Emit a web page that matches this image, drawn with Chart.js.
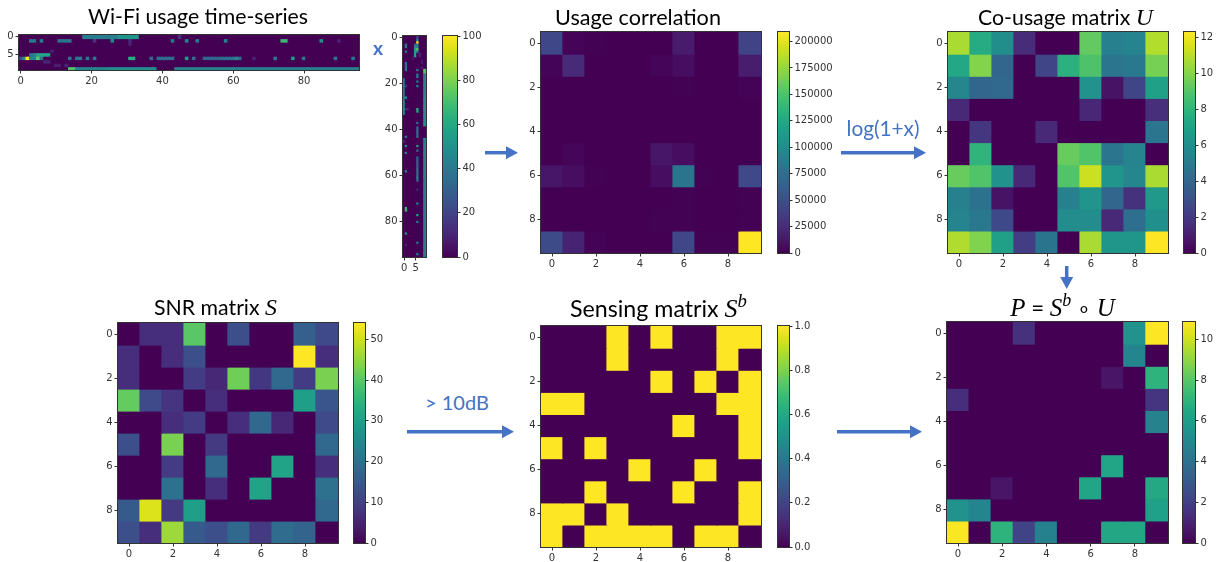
<!DOCTYPE html>
<html><head><meta charset="utf-8">
<script src="https://cdn.jsdelivr.net/npm/chart.js@4.4.1/dist/chart.umd.min.js"></script>
<style>
html,body{margin:0;padding:0;background:#fff;width:1225px;height:562px;overflow:hidden;position:relative}
canvas{position:absolute}
.t{position:absolute;white-space:nowrap;font-family:Lato,'Open Sans',sans-serif;color:#000;line-height:1;font-size:20px}
.m{font-family:'Liberation Serif','DejaVu Serif',serif;font-style:italic;font-size:1.12em}
sup{font-size:0.72em;line-height:0;vertical-align:0.55em}
.blue{color:#4472c4}
.bold{font-weight:bold}
svg{position:absolute;left:0;top:0}
</style></head><body>
<svg id="arrows" width="1225" height="562"></svg>
<script>
// ---------------- data ----------------
// Wi-Fi usage time-series: per access point (row), runs of [firstSlot, lastSlot, usage]
const tsAP0 = [[18,27,42],[28,33,52],[45,45,15]];
const tsAP1 = [[3,4,40],[6,6,42],[11,12,38],[13,14,40],[21,21,15],[26,26,45],[31,31,12],[43,43,40],[47,47,45],[50,50,42],[58,58,45],[74,75,68],[85,85,50],[90,90,10]];
const tsAP2 = [[31,31,8]];
const tsAP3 = [];
const tsAP4 = [[9,9,8]];
const tsAP5 = [[3,3,35],[4,4,45],[5,8,58]];
const tsAP6 = [[0,0,20],[1,1,45],[2,2,100],[3,4,45],[5,5,75],[6,6,40],[14,14,40],[16,17,40],[19,19,40],[21,21,40],[31,32,62],[37,37,35],[39,43,35],[47,47,55],[49,49,35],[52,56,32],[57,60,36],[61,61,45],[62,62,35],[66,66,10],[72,72,40],[77,77,55],[80,80,40],[89,89,40],[94,94,40]];
const tsAP7 = [[7,8,10]];
const tsAP8 = [[10,11,8],[13,13,10]];
const tsAP9 = [[14,15,72],[16,24,45],[25,38,48],[44,60,44],[61,95,42]];
const tsSlots = 96;

const usageCorrelation = [
  [44000, 1800, 400, 3, 0, 0, 15000, 200, 250, 42000],
  [1500, 24000, 55, 0, 11, 2400, 7000, 120, 140, 16000],
  [270, 55, 60, 0, 0, 0, 500, 1, 12, 1100],
  [3, 0, 0, 0, 0, 0, 3, 0, 0, 4],
  [0, 6, 0, 0, 3, 0, 0, 0, 0, 120],
  [0, 3000, 0, 0, 0, 12000, 7000, 120, 250, 0],
  [12000, 7000, 500, 3, 0, 7000, 80000, 550, 270, 45000],
  [200, 100, 1, 0, 0, 200, 550, 55, 5, 660],
  [250, 140, 15, 0, 0, 370, 370, 3, 80, 450],
  [48000, 20000, 1100, 9, 110, 0, 44000, 600, 600, 209000]
];
const coUsage = [
  [10.7, 7.5, 6.0, 1.5, 0, 0, 9.3, 5.3, 5.5, 10.85],
  [7.3, 10.0, 4.0, 0, 2.5, 7.8, 8.8, 4.8, 4.9, 9.7],
  [5.6, 4.0, 4.1, 0, 0, 0, 6.2, 0.6, 2.5, 7.0],
  [1.4, 0, 0, 0, 0, 0, 1.3, 0, 0, 1.6],
  [0, 1.9, 0, 0, 1.4, 0, 0, 0, 0, 4.8],
  [0, 8.0, 0, 0, 0, 9.4, 8.9, 4.8, 5.5, 0],
  [9.4, 8.9, 6.2, 1.4, 0, 8.9, 11.3, 6.3, 5.6, 10.7],
  [5.3, 4.6, 0.6, 0, 0, 5.3, 6.3, 4.0, 1.7, 6.5],
  [5.5, 4.9, 2.7, 0, 0, 5.9, 5.9, 1.4, 4.4, 6.1],
  [10.8, 9.9, 7.0, 2.2, 4.7, 0, 10.7, 6.4, 6.4, 12.3]
];
const snrMatrix = [
  [0, 7, 7, 40, 0, 13, 0, 0, 16, 12],
  [7, 0, 7, 13, 0, 0, 0, 0, 54, 7],
  [7, 0, 0, 9.5, 6, 42, 8.5, 18, 9.5, 43],
  [41, 12, 8, 0, 7, 0, 0, 0, 30, 14],
  [0, 0, 7, 9.5, 0, 7, 18, 6, 0, 12],
  [13, 0, 43, 0, 9, 0, 0, 0, 0, 18],
  [0, 0, 9.5, 0, 18, 0, 0, 31, 0, 7],
  [0, 0, 20, 0, 7, 0, 31, 0, 0, 20],
  [15, 51, 9, 30, 0, 0, 0, 0, 0, 18],
  [13, 7, 46, 15, 13, 18, 9, 19, 17, 0]
];
const sensingMatrix = [
  [0,0,0,1,0,1,0,0,1,1],
  [0,0,0,1,0,0,0,0,1,0],
  [0,0,0,0,0,1,0,1,0,1],
  [1,1,0,0,0,0,0,0,1,1],
  [0,0,0,0,0,0,1,0,0,1],
  [1,0,1,0,0,0,0,0,0,1],
  [0,0,0,0,1,0,0,1,0,0],
  [0,0,1,0,0,0,1,0,0,1],
  [1,1,0,1,0,0,0,0,0,1],
  [1,0,1,1,1,1,0,1,1,0]
];
const pMatrix = [
  [0,0,0,1.5,0,0,0,0,5.5,10.85],
  [0,0,0,0,0,0,0,0,4.9,0],
  [0,0,0,0,0,0,0,0.6,0,7.0],
  [1.4,0,0,0,0,0,0,0,0,1.6],
  [0,0,0,0,0,0,0,0,0,4.8],
  [0,0,0,0,0,0,0,0,0,0],
  [0,0,0,0,0,0,0,6.3,0,0],
  [0,0,0.6,0,0,0,6.3,0,0,6.5],
  [5.5,4.9,0,0,0,0,0,0,0,6.1],
  [10.8,0,7.0,2.2,4.7,0,0,6.4,6.4,0]
];
// tick labels
const tsTicksX = [0,20,40,60,80];
const tsTicksY = [0,5];
const stripTicksX = [0,5];
const stripTicksY = [0,20,40,60,80];
const matrixTicks = [0,2,4,6,8];
const cbTicksUsage = [0,20,40,60,80,100];
const cbTicksCorr = [0,25000,50000,75000,100000,125000,150000,175000,200000];
const cbTicksCo = [0,2,4,6,8,10,12];
const cbTicksSnr = [0,10,20,30,40,50];
const cbTicksSens = [0,0.2,0.4,0.6,0.8,1.0];
const cbTicksP = [0,2,4,6,8,10];

// ---------------- helpers ----------------
const VIRIDIS = ['#440154','#48186a','#472d7b','#424086','#3b528b','#33638d','#2c728e','#26828e','#21918c','#1fa088','#28ae80','#3fbc73','#5ec962','#84d44b','#addc30','#d8e219','#fde725'];
const VRGB = VIRIDIS.map(h=>[1,3,5].map(i=>parseInt(h.substr(i,2),16)));
function viridis(t){
  t = Math.min(1, Math.max(0, t));
  const n = VRGB.length-1, i = Math.min(n-1, Math.floor(t*n)), f = t*n-i;
  const a = VRGB[i], b = VRGB[i+1];
  return 'rgb(' + a.map((v,k)=>Math.round(v+(b[k]-v)*f)).join(',') + ')';
}
const AXIS = '#333333', TICK = '#333333';
const TFONT = {family:'DejaVu Sans', size:10};

function makeCanvas(left, top, w, h){
  const c = document.createElement('canvas');
  c.width = w; c.height = h;
  c.style.left = left+'px'; c.style.top = top+'px';
  c.style.width = w+'px'; c.style.height = h+'px';
  document.body.appendChild(c);
  return c;
}
const framePlugin = {id:'frame',
  beforeDatasetsDraw(chart){
    const a = chart.chartArea, g = chart.ctx;
    g.save(); g.fillStyle = VIRIDIS[0];
    g.fillRect(a.left, a.top, a.right-a.left, a.bottom-a.top);
    g.restore();
  },
  afterDraw(chart){
    const a = chart.chartArea, g = chart.ctx;
    g.save(); g.strokeStyle = AXIS; g.lineWidth = 1;
    const l = Math.round(a.left), t = Math.round(a.top), r = Math.round(a.right), b = Math.round(a.bottom);
    g.strokeRect(l-0.5, t-0.5, r-l+1, b-t+1);
    g.restore();
  }};
function axisOpts(pos, min, max, ticks, reverse, fit, fmt){
  return {type:'linear', position:pos, min, max, reverse, offset:false,
    grid:{display:true, offset:false, drawOnChartArea:false, drawTicks:true, tickLength:3.5, color:AXIS, tickColor:AXIS, lineWidth:1},
    border:{display:false},
    ticks:{autoSkip:false, maxRotation:0, minRotation:0, padding:2, color:TICK, font:TFONT,
      callback:(v)=> fmt ? fmt(v) : String(v)},
    afterBuildTicks:(s)=>{ s.ticks = ticks.map(v=>({value:v})); },
    afterFit:fit};
}
function baseOptions(padding, scales){
  return {responsive:false, animation:false, events:[],
    layout:{padding}, plugins:{legend:{display:false}, tooltip:{enabled:false}, title:{display:false}},
    scales};
}
function heatmap(box, matrix, vmax, xticks, yticks, yW){
  const padT = 8, padR = 8, xH = 22;
  const [L,T,W,H] = box;
  const cv = makeCanvas(L-yW, T-padT, W+yW+padR, H+padT+xH);
  const nr = matrix.length, nc = matrix[0].length;
  const datasets = matrix.map((row,r)=>({
    data: row.map((v,c)=>({x:c, y:[r-0.5, r+0.5]})),
    backgroundColor: row.map(v=>viridis(v/vmax)),
    borderWidth:0, barPercentage:1, categoryPercentage:1, grouped:false, inflateAmount:0.6
  }));
  new Chart(cv, {type:'bar', data:{datasets}, plugins:[framePlugin],
    options: baseOptions({top:padT, right:padR, left:0, bottom:0}, {
      x: axisOpts('bottom', -0.5, nc-0.5, xticks, false, s=>{s.height = xH;}),
      y: axisOpts('left', -0.5, nr-0.5, yticks, true, s=>{s.width = yW;})
    })});
}
function colorbar(box, vmax, ticks, fmt){
  const padT = 8, padB = 8, padL = 2, axW = 48;
  const [L,T,W,H] = box;
  const cv = makeCanvas(L-padL, T-padT, W+padL+axW, H+padT+padB);
  const grad = (ctx)=>{
    const a = ctx.chart.chartArea;
    if(!a) return VIRIDIS[0];
    const g = ctx.chart.ctx.createLinearGradient(0, a.bottom, 0, a.top);
    VIRIDIS.forEach((c,i)=>g.addColorStop(i/(VIRIDIS.length-1), c));
    return g;
  };
  new Chart(cv, {type:'bar', data:{datasets:[{data:[{x:0, y:[0, vmax]}], backgroundColor:grad,
      borderWidth:0, barPercentage:1, categoryPercentage:1, inflateAmount:0.6}]}, plugins:[framePlugin],
    options: baseOptions({top:padT, bottom:padB, left:padL, right:0}, {
      x: {type:'linear', display:false, min:-0.5, max:0.5, offset:false},
      y: axisOpts('right', 0, vmax, ticks, false, s=>{s.width = axW;}, fmt)
    })});
}

// ---------------- build matrices from runs ----------------
const tsRuns = [tsAP0,tsAP1,tsAP2,tsAP3,tsAP4,tsAP5,tsAP6,tsAP7,tsAP8,tsAP9];
const tsMatrix = tsRuns.map(runs=>{
  const row = new Array(tsSlots).fill(0);
  runs.forEach(([a,b,v])=>{ for(let k=a;k<=b;k++) row[k]=v; });
  return row;
});
const tsTransposed = Array.from({length:tsSlots}, (_,t)=>tsMatrix.map(row=>row[t]));

// ---------------- panels ----------------
heatmap([19,35,340,35], tsMatrix, 100, tsTicksX, tsTicksY, 19);
heatmap([403,36,23,221], tsTransposed, 100, stripTicksX, stripTicksY, 28);
colorbar([443,36,14,221], 100, cbTicksUsage);

heatmap([541,32,220,221], usageCorrelation, 209000, matrixTicks, matrixTicks, 30);
colorbar([778,32,11,221], 209000, cbTicksCorr);

heatmap([948,32,220,221], coUsage, 12.3, matrixTicks, matrixTicks, 30);
colorbar([1184,32,11,221], 12.3, cbTicksCo);

heatmap([118,323,220,220], snrMatrix, 54, matrixTicks, matrixTicks, 30);
colorbar([354,323,11,220], 54, cbTicksSnr);

heatmap([541,326,220,221], sensingMatrix, 1, matrixTicks, matrixTicks, 30);
colorbar([778,326,11,221], 1, cbTicksSens, v=>v.toFixed(1));

heatmap([947,322,221,221], pMatrix, 10.85, matrixTicks, matrixTicks, 30);
colorbar([1183,322,12,221], 10.85, cbTicksP);

// ---------------- titles and annotations ----------------
const labels = [
  ['Wi-Fi usage time-series', 198, 16.5, 220, ''],
  ['Usage correlation', 638, 18, 166, ''],
  ['Co-usage matrix <span class="m">U</span>', 1065.5, 18, 175, ''],
  ['SNR matrix <span class="m">S</span>', 215.5, 308, 123, ''],
  ['Sensing matrix <span class="m">S<sup>b</sup></span>', 658.5, 309, 177, ''],
  ['<span class="m">P</span> = <span class="m">S<sup>b</sup></span> &#8728; <span class="m">U</span>', 1062.5, 308, 105, ''],
  ['x', 378, 48, 10, 'blue bold'],
  ['log(1+x)', 883, 128, 73, 'blue'],
  ['&gt; 10dB', 457, 402, 64, 'blue']
];
labels.forEach(([html, cx, cy, w, cls])=>{
  const d = document.createElement('div');
  d.className = 't ' + cls;
  d.innerHTML = html;
  document.body.appendChild(d);
  const r0 = d.getBoundingClientRect();
  const fs = 20 * w / r0.width;
  d.style.fontSize = fs + 'px';
  const r = d.getBoundingClientRect();
  d.style.left = (cx - r.width/2) + 'px';
  d.style.top = (cy - r.height/2) + 'px';
});

const arrowSpecs = [
  [485,152.7,518,152.7],
  [841,152.7,926,152.7],
  [407,431.7,514,431.7],
  [837,431.7,922,431.7],
  [1066.7,266,1066.7,289]
];
const svg = document.getElementById('arrows');
const NS = 'http://www.w3.org/2000/svg';
arrowSpecs.forEach(([x1,y1,x2,y2])=>{
  const len = Math.hypot(x2-x1, y2-y1), ux = (x2-x1)/len, uy = (y2-y1)/len;
  const hl = 12, hw = 6.5;
  const bx = x2-ux*hl, by = y2-uy*hl;
  const line = document.createElementNS(NS,'line');
  line.setAttribute('x1',x1); line.setAttribute('y1',y1);
  line.setAttribute('x2',bx+ux); line.setAttribute('y2',by+uy);
  line.setAttribute('stroke','#4472c4'); line.setAttribute('stroke-width','3.5');
  svg.appendChild(line);
  const p = document.createElementNS(NS,'polygon');
  p.setAttribute('points', `${x2},${y2} ${bx-uy*hw},${by+ux*hw} ${bx+uy*hw},${by-ux*hw}`);
  p.setAttribute('fill','#4472c4');
  svg.appendChild(p);
});
</script>
</body></html>
